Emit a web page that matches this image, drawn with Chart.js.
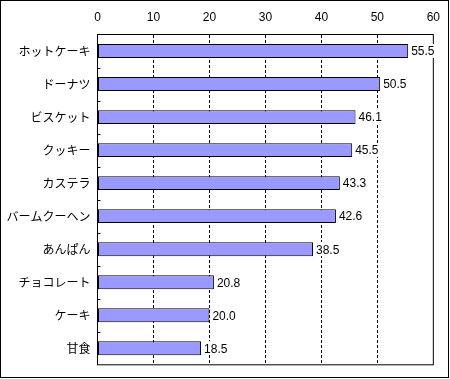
<!DOCTYPE html>
<html><head><meta charset="utf-8">
<script src="https://cdn.jsdelivr.net/npm/chart.js@4/dist/chart.umd.min.js"></script>
<style>html,body{margin:0;padding:0;background:#fff;}canvas{display:block;}</style>
</head><body>
<canvas id="c" width="450" height="379"></canvas>
<script>
const categories = ['ホットケーキ','ドーナツ','ビスケット','クッキー','カステラ','バームクーヘン','あんぱん','チョコレート','ケーキ','甘食'];
const values = [55.5, 50.5, 46.1, 45.5, 43.3, 42.6, 38.5, 20.8, 20.0, 18.5];
const xMin = 0, xMax = 60, xStep = 10;

const framePlugin = {
  id: 'frame',
  afterDraw(chart) {
    const {ctx, chartArea: a} = chart;
    ctx.save();
    ctx.setLineDash([]);
    ctx.strokeStyle = '#000';
    ctx.lineWidth = 1;
    // plot frame
    ctx.strokeRect(a.left, a.top, a.right - a.left, a.bottom - a.top);
    // inner ticks between categories
    const ys = chart.scales.y;
    ctx.beginPath();
    for (let i = 1; i < categories.length; i++) {
      const y = Math.round((ys.getPixelForValue(i - 1) + ys.getPixelForValue(i)) / 2) + 0.5;
      ctx.moveTo(a.left, y);
      ctx.lineTo(a.left + 3, y);
    }
    ctx.stroke();
    // outer frame
    ctx.strokeRect(0.5, 0.5, 448, 377);
    // value labels with white background
    ctx.font = '12px "Liberation Sans", Arial, sans-serif';
    ctx.textAlign = 'left';
    ctx.textBaseline = 'middle';
    const meta = chart.getDatasetMeta(0);
    meta.data.forEach((bar, i) => {
      const txt = values[i].toFixed(1);
      const w = ctx.measureText(txt).width;
      const x = bar.x + 2;
      ctx.fillStyle = '#fff';
      ctx.fillRect(Math.round(x), Math.round(bar.y - 7), Math.ceil(w + 2), 14);
      ctx.fillStyle = '#000';
      ctx.fillText(txt, x + 1, bar.y + 1);
    });
    ctx.restore();
  }
};

new Chart(document.getElementById('c'), {
  type: 'bar',
  data: {
    labels: categories,
    datasets: [{
      data: values,
      backgroundColor: '#9999FF',
      borderColor: '#000',
      borderWidth: 1,
      borderSkipped: false,
      barPercentage: 0.42,
      categoryPercentage: 1.0
    }]
  },
  options: {
    indexAxis: 'y',
    responsive: false,
    animation: false,
    events: [],
    layout: { padding: { left: 0, right: 15.5, top: 0, bottom: 9.5 } },
    plugins: { legend: { display: false }, tooltip: { enabled: false } },
    scales: {
      x: {
        position: 'top',
        min: xMin, max: xMax,
        afterFit(s) { s.height = 34.5; },
        ticks: {
          stepSize: xStep,
          color: '#000',
          padding: 10,
          font: { family: '"Liberation Sans", Arial, sans-serif', size: 12 }
        },
        grid: {
          drawTicks: false,
          color: (c) => (c.tick && (c.tick.value === xMin || c.tick.value === xMax)) ? 'rgba(0,0,0,0)' : '#000',
          lineWidth: 1
        },
        border: { display: false, dash: [3, 2] }
      },
      y: {
        afterFit(s) { s.width = 97.5; },
        ticks: {
          color: '#000',
          padding: 7,
          font: { family: '"Noto Sans CJK JP", sans-serif', size: 12 }
        },
        grid: { display: false, drawTicks: false },
        border: { display: false }
      }
    }
  },
  plugins: [framePlugin]
});
</script>
</body></html>
